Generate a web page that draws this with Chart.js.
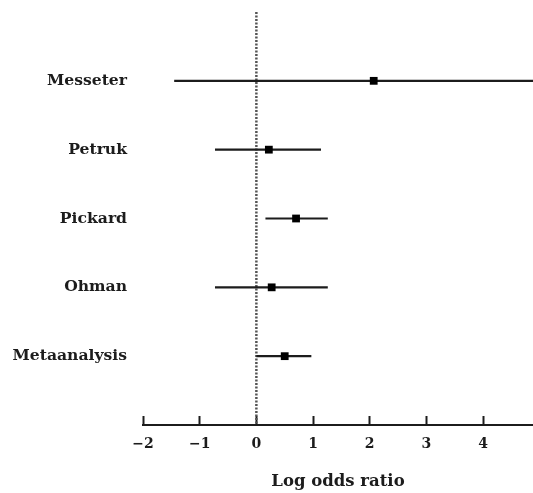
<!DOCTYPE html>
<html>
<head>
<meta charset="utf-8">
<script src="https://cdn.jsdelivr.net/npm/chart.js@4/dist/chart.umd.min.js"></script>
<style>
  html, body { margin: 0; padding: 0; background: #fff; }
  #wrap { width: 533px; height: 493px; }
</style>
</head>
<body>
<div id="wrap"><canvas id="c"></canvas></div>
<script>
// Data (log odds ratios with confidence limits)
const studies   = ['Messeter', 'Petruk', 'Pickard', 'Ohman', 'Metaanalysis'];
const estimates = [2.07, 0.22, 0.70, 0.27, 0.50];
const lowerCI   = [-1.45, -0.73, 0.16, -0.73, 0.00];
const upperCI   = [5.50, 1.14, 1.26, 1.26, 0.97];
const xTicks    = [-2, -1, 0, 1, 2, 3, 4];
const xTitle    = 'Log odds ratio';

const rowOf = i => i + 1;

const ciData = [];
studies.forEach((s, i) => {
  ciData.push({ x: lowerCI[i], y: rowOf(i) });
  ciData.push({ x: upperCI[i], y: rowOf(i) });
  ciData.push({ x: null, y: null });
});
const pointData = studies.map((s, i) => ({ x: estimates[i], y: rowOf(i) }));
const refLine = [{ x: 0, y: 0 }, { x: 0, y: studies.length + 1 }];

const serif = "'DejaVu Serif', 'Liberation Serif', serif";
const ink = '#1c1c1c';

new Chart(document.getElementById('c'), {
  type: 'scatter',
  data: {
    datasets: [
      {
        type: 'line',
        data: refLine,
        borderColor: '#555',
        borderWidth: 2.5,
        borderDash: [2, 1.5],
        pointRadius: 0,
        order: 3
      },
      {
        type: 'line',
        data: ciData,
        borderColor: ink,
        borderWidth: 2.2,
        pointRadius: 0,
        spanGaps: false,
        order: 2
      },
      {
        type: 'scatter',
        data: pointData,
        pointStyle: 'rect',
        pointRadius: 5.5,
        pointHoverRadius: 5.5,
        backgroundColor: '#000',
        borderColor: '#000',
        borderWidth: 0,
        order: 1
      }
    ]
  },
  options: {
    responsive: true,
    maintainAspectRatio: false,
    animation: false,
    events: [],
    layout: { autoPadding: false, padding: { top: 12, right: 0, bottom: 0, left: 0 } },
    plugins: { legend: { display: false }, tooltip: { enabled: false } },
    scales: {
      x: {
        type: 'linear',
        position: 'bottom',
        min: -2,
        max: 4.88,
        afterBuildTicks: s => { s.ticks = xTicks.map(v => ({ value: v })); },
        afterFit: s => { s.height = 68; s.paddingLeft = 0; s.paddingRight = 0; },
        border: { display: true, color: ink, width: 2 },
        grid: { drawOnChartArea: false, drawTicks: true, tickLength: -9, tickWidth: 2, tickColor: ink },
        ticks: {
          padding: 20,
          color: ink,
          font: { family: serif, size: 14, weight: 'bold' },
          maxRotation: 0,
          callback: v => (v < 0 ? '\u2212' + Math.abs(v) : String(v))
        },
        title: {
          display: true,
          text: xTitle,
          color: ink,
          font: { family: serif, size: 16.5, weight: 'bold' },
          padding: { top: 0, bottom: 1 }
        }
      },
      y: {
        type: 'linear',
        reverse: true,
        min: 0,
        max: studies.length + 1,
        afterBuildTicks: s => { s.ticks = studies.map((n, i) => ({ value: rowOf(i) })); },
        afterFit: s => { s.width = 143; s.paddingTop = 0; s.paddingBottom = 0; },
        border: { display: false },
        grid: { display: false, drawTicks: false },
        ticks: {
          padding: 16,
          color: ink,
          font: { family: serif, size: 15.6, weight: 'bold' },
          callback: v => studies[v - 1]
        }
      }
    }
  }
});
</script>
</body>
</html>
